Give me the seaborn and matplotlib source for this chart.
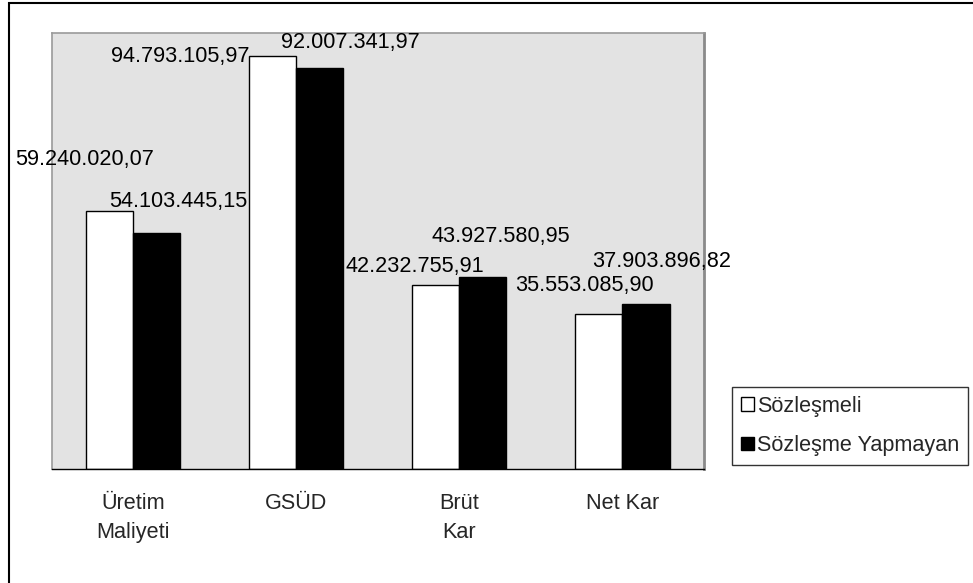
import matplotlib
matplotlib.use("Agg")
import matplotlib.pyplot as plt
import matplotlib.patches as mpatches
from matplotlib.ticker import FixedLocator
import seaborn as sns
import pandas as pd

categories = ["Üretim\nMaliyeti", "GSÜD", "Brüt\nKar", "Net Kar"]
series_names = ["Sözleşmeli", "Sözleşme Yapmayan"]
sozlesmeli = [59240020.07, 94793105.97, 42232755.91, 35553085.90]
yapmayan = [54103445.15, 92007341.97, 43927580.95, 37903896.82]
labels_s = ["59.240.020,07", "94.793.105,97", "42.232.755,91", "35.553.085,90"]
labels_y = ["54.103.445,15", "92.007.341,97", "43.927.580,95", "37.903.896,82"]
# label offsets (pixels) relative to bar top centre
off_s = [(-25, 51), (-93, -1), (-21, 18), (-15, 28)]
off_y = [(22, 32), (31, 25), (18, 41), (16, 42)]

df = pd.DataFrame({
    "cat": categories * 2,
    "series": [series_names[0]] * 4 + [series_names[1]] * 4,
    "value": sozlesmeli + yapmayan,
})

sns.set_theme(style="white")
plt.rcParams["font.family"] = ["Liberation Sans", "DejaVu Sans"]

FS = 15.6
W, H = 973, 583
fig = plt.figure(figsize=(W / 100, H / 100), dpi=100)
fig.patches.append(mpatches.Rectangle((9 / W, 0 - 0.01), 1.0, 1 - 3 / H + 0.01,
                                      transform=fig.transFigure, fill=False,
                                      edgecolor="black", linewidth=1.5))
ax = fig.add_axes([51.7 / W, (H - 469) / H, (704 - 51.7) / W, (469 - 33) / H])
ax.set_facecolor("#E3E3E3")

sns.barplot(data=df, x="cat", y="value", hue="series", order=categories,
            hue_order=series_names, palette=["white", "black"],
            edgecolor="black", linewidth=1.0, width=0.577, ax=ax,
            legend=False, errorbar=None, saturation=1)

ax.set_ylim(0, 100_000_000)
ax.set_xlim(-0.5, 3.5)
ax.set_yticks([])
ax.set_xlabel("")
ax.set_ylabel("")

ax.tick_params(axis="x", which="major", length=0, pad=17, labelsize=FS)
ax.xaxis.set_minor_locator(FixedLocator([-0.5, 0.5, 1.5, 2.5, 3.5]))
ax.tick_params(axis="x", which="minor", length=12, direction="inout", width=1, color="black")
for lab in ax.get_xticklabels():
    lab.set_linespacing(1.55)

for side in ["left", "top"]:
    ax.spines[side].set_color("#9a9a9a")
    ax.spines[side].set_linewidth(1.2)
ax.spines["right"].set_color("#8a8a8a")
ax.spines["right"].set_linewidth(2)
ax.spines["bottom"].set_color("black")
ax.spines["bottom"].set_linewidth(1)

# data labels
bars_s = ax.containers[0]
bars_y = ax.containers[1]
for bars, labs, offs in [(bars_s, labels_s, off_s), (bars_y, labels_y, off_y)]:
    for rect, lab, (dx, dy) in zip(bars, labs, offs):
        x = rect.get_x() + rect.get_width() / 2
        y = rect.get_height()
        ax.annotate(lab, (x, y), xytext=(dx, dy), textcoords="offset pixels",
                    ha="center", va="center", fontsize=FS, color="black",
                    annotation_clip=False, zorder=20)

handles = [mpatches.Patch(facecolor=c, edgecolor="black", linewidth=1) for c in ["white", "black"]]
leg = fig.legend(handles, series_names, loc="upper left",
                 bbox_to_anchor=(732 / W, 1 - 387 / H), fontsize=FS,
                 frameon=True, fancybox=False, edgecolor="black",
                 handlelength=0.6, handleheight=0.6, handletextpad=0.15,
                 borderpad=0.4, labelspacing=0.85, borderaxespad=0)
leg.get_frame().set_linewidth(1)

fig.savefig("out.png", dpi=100)
